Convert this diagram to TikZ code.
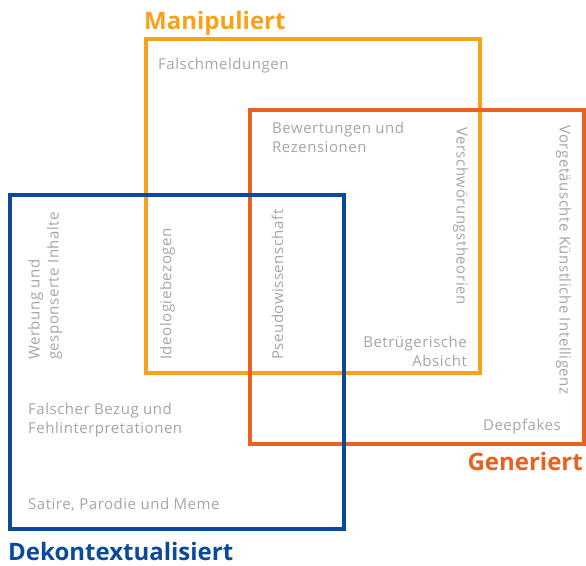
\documentclass[tikz,border=0pt]{standalone}
\usepackage{fontspec}
\setmainfont{Open Sans}
\newfontfamily\itemfont[LetterSpace=3.5]{Open Sans}
\usetikzlibrary{positioning}

\definecolor{manipcol}{RGB}{249,161,27}
\definecolor{genercol}{RGB}{233,97,30}
\definecolor{dekoncol}{RGB}{11,74,155}
\definecolor{itemcol}{RGB}{165,165,165}

\begin{document}
\begin{tikzpicture}[x=1pt,y=1pt,
	setbox/.style={draw, line width=4pt, minimum width=334pt, minimum height=334pt, inner sep=0pt},
	settitle/.style={font=\fontsize{24}{28}\selectfont\bfseries, inner sep=0pt},
	itemtext/.style={text=itemcol, font=\itemfont\fontsize{15}{19}\selectfont, inner sep=0pt}]
				\useasboundingbox (0,0) rectangle (586,565);

				% die drei Bereiche
				\node[setbox, draw=manipcol] (manip) at (313,358.5) {};
				\node[setbox, draw=genercol] (gener) at (417,288) {};
				\node[setbox, draw=dekoncol] (dekon) at (177,203) {};

				% Titel
				\node[settitle, text=manipcol, anchor=base west] (tmanip) at (144,535) {Manipuliert};
				\node[settitle, text=genercol, anchor=base east] (tgener) at (583,95) {Generiert};
				\node[settitle, text=dekoncol, anchor=base west] (tdekon) at (8,5) {Dekontextualisiert};

				% Einträge
				\node[itemtext, anchor=base west] (falsch) at (158,495) {Falschmeldungen};
				\node[itemtext, anchor=north west, align=left] (bewert) at (272,443) {Bewertungen und\\Rezensionen};
				\node[itemtext, anchor=west, rotate=-90] (versch) at (460.5,438) {Verschwörungstheorien};
				\node[itemtext, anchor=west, rotate=-90] (vorget) at (563.5,440) {Vorgetäuschte Künstliche Intelligenz};
				\node[itemtext, anchor=north east, align=right] (betrug) at (467,229) {Betrügerische\\Absicht};
				\node[itemtext, anchor=west, rotate=90] (pseudo) at (277.5,205) {Pseudowissenschaft};
				\node[itemtext, anchor=west, rotate=90] (ideolo) at (167.5,205) {Ideologiebezogen};
				\node[itemtext, anchor=north west, align=left, rotate=90] (werbung) at (28,205) {Werbung und\\gesponserte Inhalte};
				\node[itemtext, anchor=north west, align=left] (bezug) at (28,162) {Falscher Bezug und\\Fehlinterpretationen};
				\node[itemtext, anchor=base west] (satire) at (28,56) {Satire, Parodie und Meme};
				\node[itemtext, anchor=base east] (deepf) at (561,134) {Deepfakes};
\end{tikzpicture}
\end{document}
